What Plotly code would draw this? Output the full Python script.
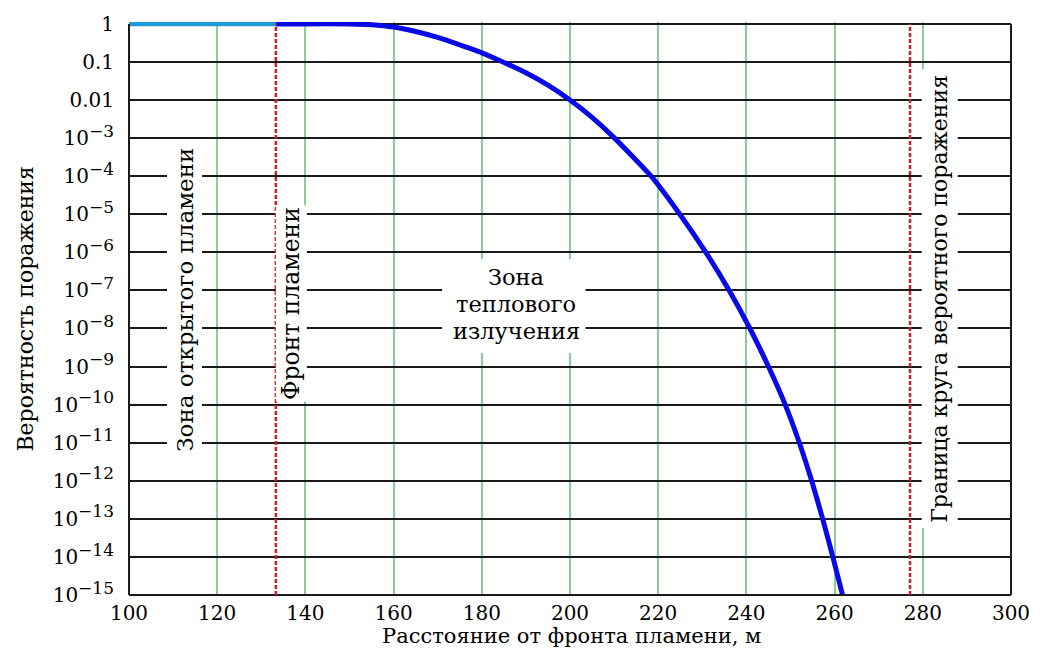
import plotly.graph_objects as go

# ---- data ----
open_flame_x = [100, 133.3]
open_flame_y = [1.0, 1.0]

curve_x = [133.3, 140, 150, 155, 160, 165, 170, 175, 180, 184.8, 190, 195, 200, 205,
           210.1, 218.4, 224.9, 230.8, 236.1, 240.8, 245.0, 248.8, 252.0, 254.8,
           257.3, 259.6, 261.8]
curve_y = [1.0, 1.0, 1.0, 0.955, 0.83, 0.63, 0.44, 0.28, 0.174, 0.1, 0.052, 0.0245,
           1.0e-2, 3.5e-3, 1.0e-3, 1.0e-4, 1.0e-5, 1.0e-6, 1.0e-7, 1.0e-8, 1.0e-9,
           1.0e-10, 1.0e-11, 1.0e-12, 1.0e-13, 1.0e-14, 1.0e-15]

flame_front_x = 133.3
damage_border_x = 277.1

y_tick_vals = [1, 0.1, 0.01] + [10.0 ** (-k) for k in range(3, 16)]
y_tick_text = ["1", "0.1", "0.01"] + [
    "10<sup><span style='font-size:17px'>\u2212%d</span></sup>" % k for k in range(3, 16)]
x_tick_vals = [100, 120, 140, 160, 180, 200, 220, 240, 260, 280, 300]

label_open_zone = "Зона открытого пламени"
label_front = "Фронт пламени"
label_heat_zone = ["Зона", "теплового", "излучения"]
label_border = "Граница круга вероятного поражения"
x_title = "Расстояние от фронта пламени, м"
y_title = "Вероятность поражения"

FONT = "DejaVu Serif"
TOP_EXT = 0.05

fig = go.Figure()
fig.add_trace(go.Scatter(x=open_flame_x, y=open_flame_y, mode="lines",
                         line=dict(color="#1E9AD6", width=4.5), showlegend=False,
                         cliponaxis=False))
fig.add_trace(go.Scatter(x=curve_x, y=curve_y, mode="lines",
                         line=dict(color="#0A0AE6", width=5, shape="spline", smoothing=0.5),
                         showlegend=False, cliponaxis=False))

top_frac = 15 / (15 + TOP_EXT)
# white box behind the heat-zone label
fig.add_shape(type="rect", xref="x", yref="paper", x0=171.0, x1=203.5, y0=0.4224, y1=0.5862,
              line=dict(width=0), fillcolor="white", layer="above")
# frame: left, right, bottom (top edge is the black gridline at 1)
frame = dict(color="#1a1a1a", width=2)
fig.add_shape(type="line", xref="paper", yref="paper", x0=0, x1=0, y0=0, y1=top_frac,
              line=frame, layer="above")
fig.add_shape(type="line", xref="paper", yref="paper", x0=1, x1=1, y0=0, y1=top_frac,
              line=frame, layer="above")
fig.add_shape(type="line", xref="paper", yref="paper", x0=0, x1=1, y0=0, y1=0,
              line=frame, layer="above")
for xv in (flame_front_x, damage_border_x):
    fig.add_shape(type="line", xref="x", yref="paper", x0=xv, x1=xv, y0=0, y1=top_frac,
                  line=dict(color="#C8202A", width=2.5, dash="4px,2px"), layer="above")

def afont(s):
    return dict(family=FONT, size=s, color="black")

common = dict(showarrow=False, xanchor="center", yanchor="middle")
fig.add_annotation(x=112.5, y=0.5155, xref="x", yref="paper", text=label_open_zone,
                   textangle=-90, font=afont(23), bgcolor="white", borderpad=4, **common)
fig.add_annotation(x=136.9, y=0.509, xref="x", yref="paper", text=label_front,
                   textangle=-90, font=afont(23.5), bgcolor="white", borderpad=1, **common)
for txt, yy in zip(label_heat_zone, [0.5552, 0.5086, 0.4603]):
    fig.add_annotation(x=187.8, y=yy, xref="x", yref="paper", text=txt,
                       font=afont(22.5), **common)
fig.add_annotation(x=283.9, y=0.517, xref="x", yref="paper", text=label_border,
                   textangle=-90, font=afont(22), bgcolor="white", borderpad=5, **common)

# axis titles
fig.add_annotation(x=-0.1178, y=0.5, xref="paper", yref="paper", text=y_title,
                   textangle=-90, font=afont(22), **common)
fig.add_annotation(x=0.5017, y=-0.0724, xref="paper", yref="paper", text=x_title,
                   font=afont(21), **common)

fig.update_xaxes(range=[100, 300], tickvals=x_tick_vals, showgrid=True,
                 gridcolor="#86CF96", gridwidth=1.5, zeroline=False, showline=False,
                 ticks="", ticklabelstandoff=4, tickfont=afont(20))
fig.update_yaxes(type="log", range=[-15, TOP_EXT], tickvals=y_tick_vals, ticktext=y_tick_text,
                 showgrid=True, gridcolor="#1a1a1a", gridwidth=1.5, zeroline=False,
                 showline=False, ticks="", ticklabelstandoff=14, tickfont=afont(20))

fig.update_layout(width=1042, height=655, margin=dict(l=129, r=30, t=15, b=60),
                  paper_bgcolor="white", plot_bgcolor="white",
                  font=dict(family=FONT, color="black"))

fig.write_html("out.html")
